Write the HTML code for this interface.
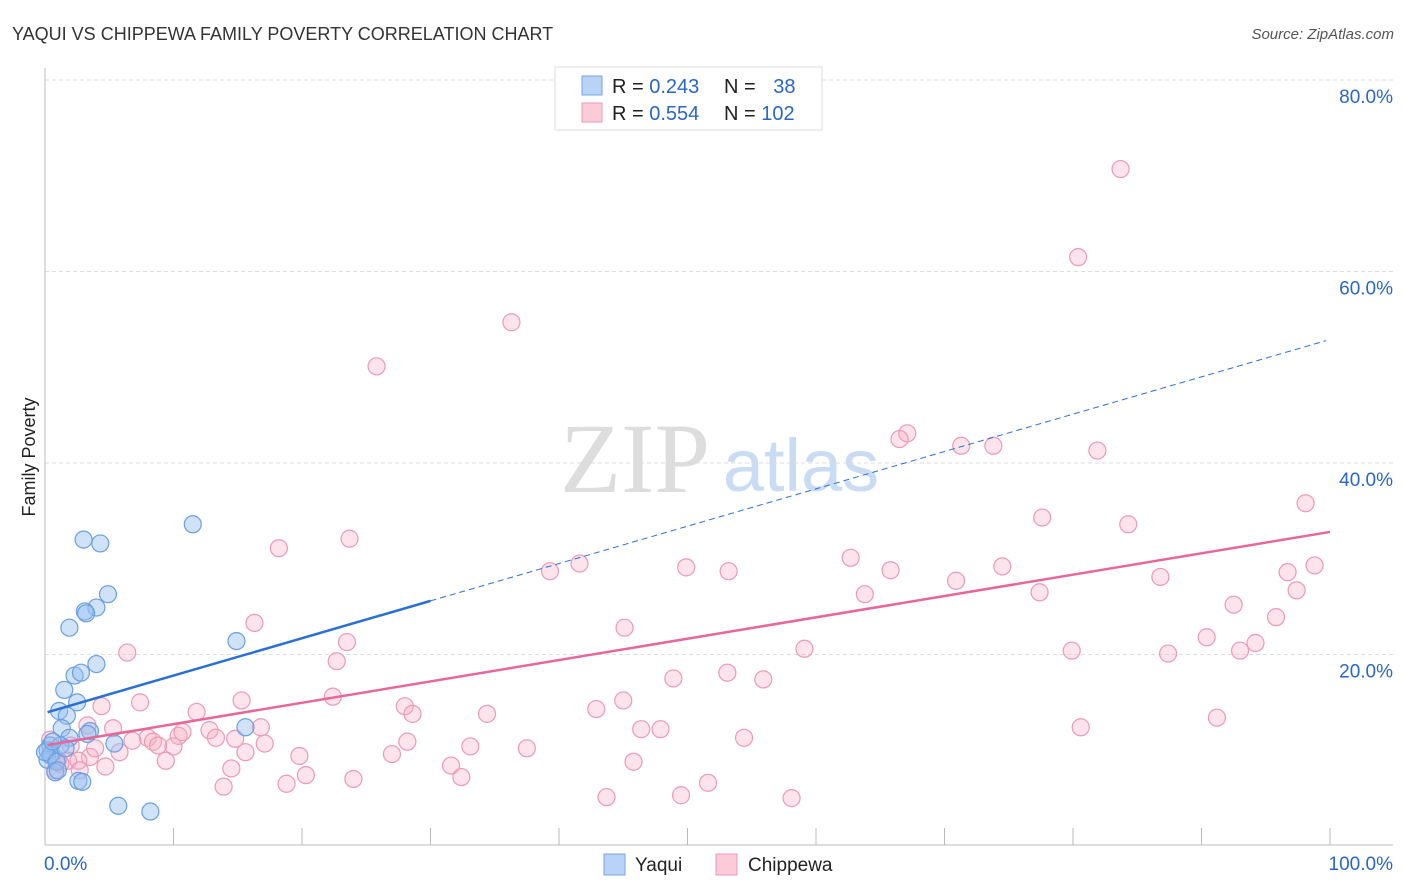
<!DOCTYPE html>
<html><head><meta charset="utf-8"><style>
body{margin:0;background:#fff;font-family:"Liberation Sans",sans-serif;}
svg{display:block}
</style></head><body>
<svg id="chart" width="1406" height="892" xmlns="http://www.w3.org/2000/svg">
<text x="12" y="40" font-size="18" fill="#333">YAQUI VS CHIPPEWA FAMILY POVERTY CORRELATION CHART</text>
<text x="1394" y="39" font-size="15" fill="#555" font-style="italic" text-anchor="end">Source: ZipAtlas.com</text>
<text x="635" y="492" font-size="100" fill="#ddd" font-family="Liberation Serif,serif" text-anchor="middle">ZIP</text>
<text x="801" y="491" font-size="74" fill="#c9dcf4" text-anchor="middle">atlas</text>
<g id="grid"></g>
<g id="axes"></g>
<g id="pts"></g>
<g id="trend"></g>
<text x="35" y="457" font-size="18" fill="#222" text-anchor="middle" transform="rotate(-90 35 457)">Family Poverty</text>
<g>
<rect x="555" y="67" width="267" height="63" fill="#fff" stroke="#ddd"/>
<rect x="582" y="76" width="20" height="19" fill="#b8d3f5" stroke="#7aa6e0"/>
<rect x="582" y="103" width="20" height="19" fill="#fccbda" stroke="#eb9ab3"/>
<text x="612" y="93" font-size="20" fill="#222">R = <tspan fill="#2a66c8">0.243</tspan></text>
<text x="724" y="93" font-size="20" fill="#222">N = <tspan fill="#2a66c8" dx="12">38</tspan></text>
<text x="612" y="120" font-size="20" fill="#222">R = <tspan fill="#2a66c8">0.554</tspan></text>
<text x="724" y="120" font-size="20" fill="#222">N = <tspan fill="#2a66c8">102</tspan></text>
</g>
<g>
<rect x="604" y="854" width="21" height="21" fill="#b8d3f5" stroke="#7aa6e0"/>
<text x="635" y="871" font-size="19" fill="#222">Yaqui</text>
<rect x="716" y="854" width="21" height="21" fill="#fccbda" stroke="#eb9ab3"/>
<text x="748" y="871" font-size="19" fill="#222">Chippewa</text>
</g>
</svg>
<script>
const yTicks=[20,40,60,80];
const yTickLabels=["20.0%","40.0%","60.0%","80.0%"];
const xTicks=[0,10,20,30,40,50,60,70,80,90,100];
const xEndLabels=["0.0%","100.0%"];
const yaquiX=[11.5,3.0,4.3,4.9,4.0,3.1,3.2,1.9,4.0,2.3,2.8,1.5,2.5,1.1,1.7,1.3,3.5,3.3,1.9,5.4,15.6,14.9,0.4,0.2,0.5,0.2,0.8,2.6,2.9,5.7,8.2,0.4,1.2,0.0,0.9,1.6,0.6,1.0];
const yaquiY=[33.6,32.0,31.6,26.3,24.9,24.5,24.3,22.8,19.0,17.8,18.1,16.3,15.0,14.1,13.6,12.3,12.0,11.7,11.3,10.7,12.4,21.4,10.5,10.0,9.6,9.0,7.7,6.8,6.7,4.2,3.6,9.5,10.5,9.8,8.8,10.2,10.9,7.9];
const chipX=[83.7,80.4,36.3,25.8,67.1,66.5,71.3,73.8,81.9,98.1,77.6,84.3,23.7,18.2,62.7,41.6,39.3,49.9,53.2,65.8,74.5,98.8,96.7,70.9,86.8,63.8,77.4,97.4,92.5,95.8,16.3,45.1,90.4,23.5,94.2,59.1,79.9,87.4,93.0,6.4,22.7,48.9,53.1,55.9,22.4,15.3,7.4,45.0,28.0,42.9,4.4,11.8,28.6,34.4,91.2,3.3,5.3,12.8,16.8,80.6,46.4,47.9,10.4,10.7,13.3,14.8,8.0,8.4,6.8,54.4,10.0,8.8,17.1,28.2,2.0,33.1,37.5,15.6,5.8,19.8,27.0,3.5,9.4,1.8,1.2,2.6,31.6,45.8,14.5,4.7,20.3,32.4,24.0,0.8,13.9,18.8,51.6,49.5,43.7,58.1,1.0,2.7,0.4,3.9];
const chipY=[70.7,61.5,54.7,50.1,43.1,42.5,41.8,41.8,41.3,35.8,34.3,33.6,32.1,31.1,30.1,29.5,28.7,29.1,28.7,28.8,29.2,29.3,28.6,27.7,28.1,26.3,26.5,26.7,25.2,23.9,23.3,22.8,21.8,21.3,21.2,20.6,20.4,20.1,20.4,20.2,19.3,17.5,18.1,17.4,15.6,15.2,15.0,15.2,14.6,14.3,14.6,14.0,13.8,13.8,13.4,12.6,12.3,12.1,12.4,12.4,12.2,12.2,11.5,11.9,11.3,11.2,11.3,10.9,11.0,11.3,10.4,10.5,10.7,10.9,10.5,10.4,10.2,9.8,9.8,9.4,9.6,9.3,8.9,8.9,8.6,8.9,8.4,8.8,8.1,8.3,7.4,7.2,7.0,7.9,6.2,6.5,6.6,5.3,5.1,5.0,9.0,7.9,11.1,10.2];
const yaquiTrend=[13.9,0.39];
const chipTrend=[10.5,0.223];
const NS="http://www.w3.org/2000/svg";
const X=v=>45+v*12.85, Y=v=>846-v*9.575;
function mk(t,a,p){const e=document.createElementNS(NS,t);for(const k in a)e.setAttribute(k,a[k]);p.appendChild(e);return e;}
const grid=document.getElementById('grid'),axes=document.getElementById('axes'),pts=document.getElementById('pts'),tr=document.getElementById('trend');
yTicks.forEach((v,i)=>{
 const l=mk('line',{x1:45,x2:1393,y1:Y(v),y2:Y(v),stroke:'#ddd','stroke-dasharray':'4,3'},grid);
 
 
 const t=mk('text',{x:1393,y:Y(v)+23,'font-size':19,fill:'#2a66c8','text-anchor':'end'},axes);
 t.textContent=yTickLabels[i];
 
 
});
const ax=mk('line',{x1:45,x2:45,y1:68,y2:845,stroke:'#bbb'},axes);


const bx=mk('line',{x1:45,x2:1393,y1:845,y2:845,stroke:'#bbb'},axes);


xTicks.forEach(v=>{
 const l=mk('line',{x1:X(v),x2:X(v),y1:828,y2:845,stroke:'#bbb'},axes);
 
 
});
[[0,'start',44],[100,'end',1393]].forEach((d,i)=>{
 const t=mk('text',{x:d[2],y:870,'font-size':19,fill:'#2a66c8','text-anchor':d[1]},axes);
 t.textContent=xEndLabels[i];
 
 
});
chipX.forEach((v,i)=>{
 const c=mk('circle',{cx:X(v),cy:Y(chipY[i]),r:8.5,fill:'rgba(248,175,198,0.35)',stroke:'#ec9ab4','stroke-width':1.2},pts);
 
 
});
yaquiX.forEach((v,i)=>{
 const c=mk('circle',{cx:X(v),cy:Y(yaquiY[i]),r:8.5,fill:'rgba(150,190,240,0.45)',stroke:'#6a9fe0','stroke-width':1.2},pts);
 
 
});
const bl=mk('line',{x1:X(0.2),y1:Y(yaquiTrend[0]+yaquiTrend[1]*0.2),x2:X(30),y2:Y(yaquiTrend[0]+yaquiTrend[1]*30),stroke:'#2a6fd6','stroke-width':2.5},tr);


const bd=mk('line',{x1:X(30),y1:Y(yaquiTrend[0]+yaquiTrend[1]*30),x2:X(99.7),y2:Y(yaquiTrend[0]+yaquiTrend[1]*99.7),stroke:'#2a6fd6','stroke-width':1,'stroke-dasharray':'6,4'},tr);


const pl=mk('line',{x1:X(0.2),y1:Y(chipTrend[0]+chipTrend[1]*0.2),x2:X(100),y2:Y(chipTrend[0]+chipTrend[1]*100),stroke:'#e8679a','stroke-width':2.5},tr);


</script>
</body></html>
